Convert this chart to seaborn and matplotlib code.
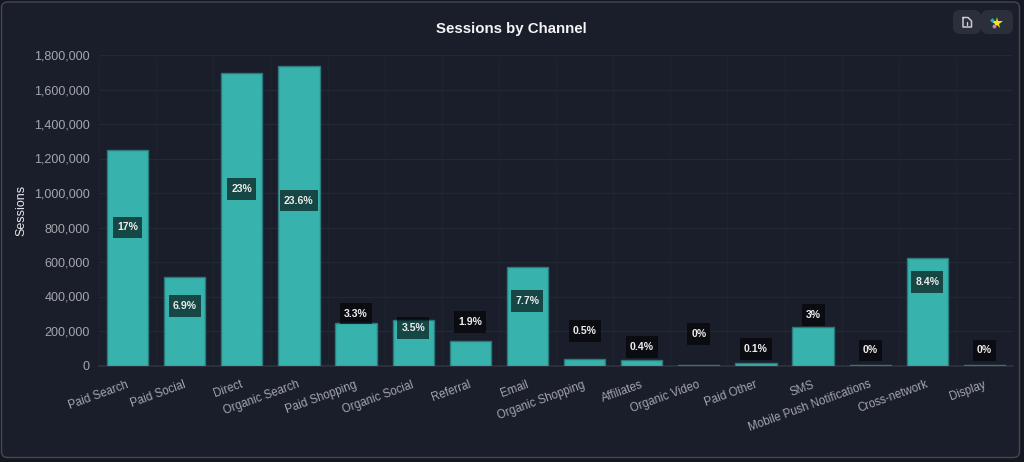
import matplotlib
matplotlib.use("Agg")
import matplotlib.pyplot as plt
from matplotlib.patches import FancyBboxPatch
from matplotlib.path import Path
from matplotlib.ticker import FuncFormatter
from matplotlib.transforms import ScaledTranslation
import seaborn as sns
import pandas as pd

channels = ["Paid Search", "Paid Social", "Direct", "Organic Search", "Paid Shopping",
            "Organic Social", "Referral", "Email", "Organic Shopping", "Affiliates",
            "Organic Video", "Paid Other", "SMS", "Mobile Push Notifications",
            "Cross-network", "Display"]
sessions = [1252000, 513000, 1695000, 1739000, 249000, 261000, 142000, 571000,
            38000, 32000, 1000, 14000, 223000, 1500, 623000, 1000]
share_labels = ["17%", "6.9%", "23%", "23.6%", "3.3%", "3.5%", "1.9%", "7.7%",
                "0.5%", "0.4%", "0%", "0.1%", "3%", "0%", "8.4%", "0%"]
label_heights = [800000, 345000, 1022000, 956000, 301000, 216000, 252000, 373000,
                 200000, 108000, 182000, 95000, 292000, 88000, 484000, 88000]

BG = "#1a1e2b"
sns.set_theme(style="dark", rc={"axes.facecolor": BG, "figure.facecolor": "#14171f"})
plt.rcParams["font.family"] = ["Liberation Sans", "DejaVu Sans"]

fig = plt.figure(figsize=(10.24, 4.62), dpi=100)
W, H = 1024, 462
ax = fig.add_axes([99 / W, 1 - 365.5 / H, 914 / W, 310.5 / H])

# card and toolbar
fig.patches.append(FancyBboxPatch((1.5, 4.5), 1018, 455.5, boxstyle="round,pad=0,rounding_size=6",
                                  transform=None, fc=BG, ec="#434854", lw=1, zorder=-5))
for x0, w in [(953, 28), (981, 32)]:
    fig.patches.append(FancyBboxPatch((x0, H - 34), w, 24, boxstyle="round,pad=0,rounding_size=7",
                                      transform=None, fc="#2a2f3a", ec="none", zorder=-4))

df = pd.DataFrame({"channel": channels, "sessions": sessions})
sns.barplot(data=df, x="channel", y="sessions", ax=ax, color="#38b2ac", saturation=1,
            width=0.72, edgecolor="#2c7a7b", linewidth=1, zorder=3)

ax.set_xlim(-0.5, len(channels) - 0.5)
ax.set_ylim(0, 1800000)
ax.set_yticks(range(0, 1800001, 200000))
ax.yaxis.set_major_formatter(FuncFormatter(lambda v, _: f"{int(v):,}"))
ax.set_xticks([i + 0.5 for i in range(-1, len(channels))], minor=True)
ax.grid(True, axis="y", color="#232835", lw=1, zorder=0)
ax.grid(True, axis="x", which="minor", color="#1f2330", lw=1, zorder=0)
ax.grid(False, axis="x", which="major")
for s in ax.spines.values():
    s.set_visible(False)
ax.spines["bottom"].set_visible(True)
ax.spines["bottom"].set_color("#2d323e")
ax.tick_params(axis="y", length=5.5, color="#232835", labelcolor="#a3a6ac", labelsize=9, pad=1)
ax.tick_params(axis="x", which="major", length=0, labelcolor="#a3a6ac", labelsize=8.3, pad=9.5)
ax.tick_params(axis="x", which="minor", length=6, color="#1f2330")
plt.setp(ax.get_xticklabels(), rotation=20, ha="right", rotation_mode="anchor")
shift = ScaledTranslation(-1.5 / 100, 0, fig.dpi_scale_trans)
for lab in ax.get_xticklabels():
    lab.set_transform(lab.get_transform() + shift)
ax.set_xlabel("")
ax.set_ylabel("")


def label_box(x0, y0, width, height, mutation_size):
    """Label background: 4 px of padding at the sides, 5.8 px above and below."""
    l, r, b, t = x0 - 4, x0 + width + 4, y0 - 5.8, y0 + height + 5.8
    return Path([(l, b), (r, b), (r, t), (l, t), (l, b)], closed=True)


for i, (txt, yv) in enumerate(zip(share_labels, label_heights)):
    ax.text(i, yv, txt, ha="center", va="center", color="#ececec", fontsize=7.6, fontweight="bold",
            zorder=6, bbox=dict(boxstyle=label_box, fc=(0, 0, 0, 0.6), ec="none"))

fig.text(511 / W, 1 - 29.5 / H, "Sessions by Channel", ha="center", va="center",
         color="#f4f5f6", fontsize=10.8, fontweight="bold")
fig.text(21 / W, 1 - 210 / H, "Sessions", rotation=90, ha="center", va="center",
         color="#e8e9eb", fontsize=9)

# toolbar icons
ax_icon = fig.add_axes([953 / W, 1 - 34 / H, 60 / W, 24 / H])
ax_icon.axis("off")
ax_icon.set_xlim(0, 60)
ax_icon.set_ylim(24, 0)
ax_icon.plot([10, 15, 18.5, 18.5, 10, 10], [7.5, 7.5, 11, 17, 17, 7.5], color="#c9cbd0", lw=1.1)
ax_icon.plot([14, 14], [11.5, 15], color="#c9cbd0", lw=1)
ax_icon.plot([43.5], [12.5], marker="*", ms=8.5, color="#f5e61a", mew=0)
ax_icon.plot([39], [9.5], marker="D", ms=2.4, color="#2aa8c9", mew=0)
ax_icon.plot([41], [15.5], marker="o", ms=2.8, color="#c77fb5", mew=0)

fig.savefig("out.png", dpi=100, facecolor=fig.get_facecolor())
